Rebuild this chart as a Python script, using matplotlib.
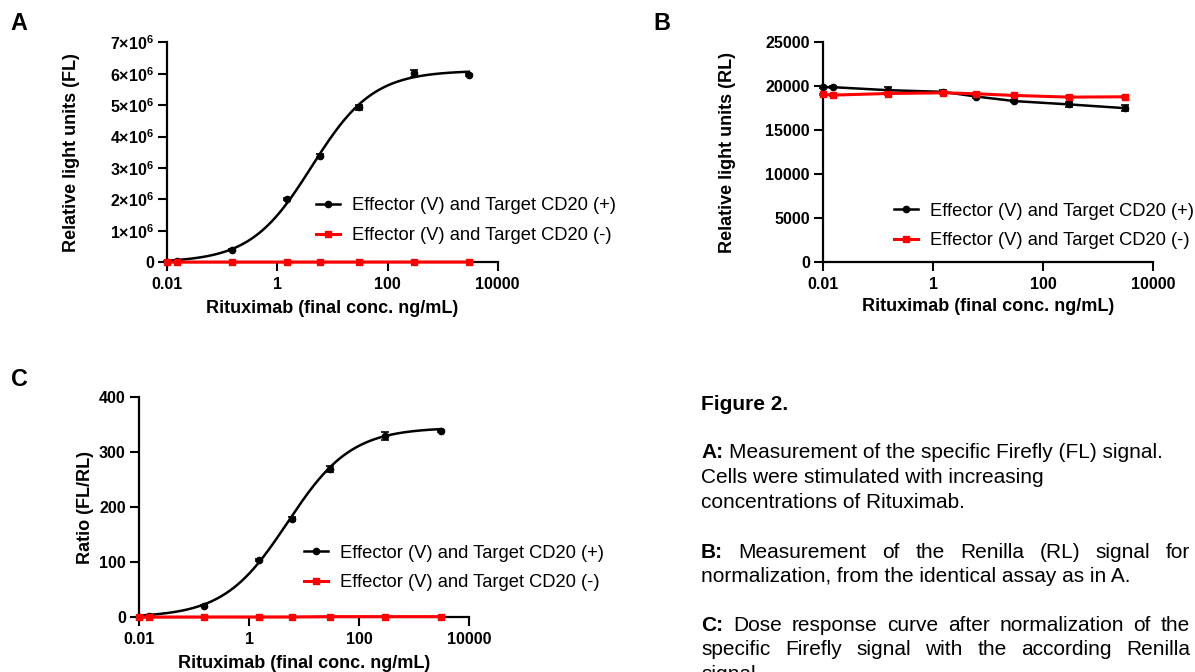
import matplotlib
matplotlib.use('Agg')
import matplotlib.pyplot as plt
import numpy as np
from matplotlib.lines import Line2D
from matplotlib.ticker import FixedLocator, FixedFormatter, NullLocator

# ---------------- data ----------------
conc = [0.01, 0.015, 0.15, 1.5, 6, 30, 300, 3000]

fl_pos = [0.02e6, 0.05e6, 0.39e6, 2.02e6, 3.39e6, 4.93e6, 6.01e6, 5.95e6]
fl_pos_err = [0.01e6, 0.01e6, 0.03e6, 0.04e6, 0.05e6, 0.07e6, 0.12e6, 0.03e6]
fl_neg = [5000, 6000, 6000, 6000, 6000, 7000, 7000, 7000]
fl_fit = [0.0, 6.1e6, 4.2, 0.78]          # bottom, top, EC50, Hill (4PL fit)

rl_pos = [19900, 19900, 19560, 19370, 18840, 18320, 17940, 17520]
rl_pos_err = [150, 100, 350, 200, 150, 150, 300, 300]
rl_neg = [19070, 19000, 19180, 19260, 19150, 18960, 18770, 18810]
rl_neg_err = [100, 100, 150, 100, 100, 100, 100, 100]

ratio_pos = [0.5, 2.4, 21.2, 103.6, 178.8, 269.7, 329.7, 339.4]
ratio_pos_err = [0.5, 0.5, 1.5, 2.0, 3.0, 5.0, 8.0, 2.0]
ratio_neg = [0.3, 0.3, 0.5, 0.5, 0.6, 1.2, 1.2, 1.2]
ratio_fit = [0.0, 345.0, 5.0, 0.75]       # bottom, top, EC50, Hill (4PL fit)

xticks = [0.01, 1, 100, 10000]
xtick_labels = ['0.01', '1', '100', '10000']
fl_yticks = [0, 1e6, 2e6, 3e6, 4e6, 5e6, 6e6, 7e6]
fl_ytick_labels = ['0'] + [r'$%d{\times}10^{6}$' % i for i in range(1, 8)]
rl_yticks = [0, 5000, 10000, 15000, 20000, 25000]
rl_ytick_labels = ['0', '5000', '10000', '15000', '20000', '25000']
ratio_yticks = [0, 100, 200, 300, 400]
ratio_ytick_labels = ['0', '100', '200', '300', '400']

legend_labels = ['Effector (V) and Target CD20 (+)', 'Effector (V) and Target CD20 (-)']
xlabel = 'Rituximab (final conc. ng/mL)'

# ---------------- style ----------------
W, H = 1195, 672
plt.rcParams['font.family'] = ['Liberation Sans', 'DejaVu Sans']
plt.rcParams['font.weight'] = 'bold'
plt.rcParams['mathtext.fontset'] = 'custom'
plt.rcParams['mathtext.rm'] = 'Liberation Sans:bold'
plt.rcParams['mathtext.bf'] = 'Liberation Sans:bold'
plt.rcParams['mathtext.it'] = 'Liberation Sans:bold:italic'
plt.rcParams['mathtext.sf'] = 'Liberation Sans:bold'

RED = '#FF0000'
fig = plt.figure(figsize=(W / 100, H / 100), dpi=100)


def make_ax(left, top, w, h):
    return fig.add_axes([left / W, 1 - (top + h) / H, w / W, h / H])


def four_pl(x, p):
    bottom, top, ec50, hill = p
    x = np.asarray(x, dtype=float)
    return bottom + (top - bottom) / (1 + (ec50 / x) ** hill)


def style_ax(ax, yticks, ylabels, ymax, ylabel, ylab_x, xlab_y):
    ax.set_xscale('log')
    ax.set_xlim(0.01, 10000)
    ax.set_ylim(0, ymax)
    for s in ['top', 'right']:
        ax.spines[s].set_visible(False)
    for s in ['left', 'bottom']:
        ax.spines[s].set_linewidth(1.6)
    ax.xaxis.set_major_locator(FixedLocator(xticks))
    ax.xaxis.set_major_formatter(FixedFormatter(xtick_labels))
    ax.xaxis.set_minor_locator(NullLocator())
    ax.yaxis.set_major_locator(FixedLocator(yticks))
    ax.yaxis.set_major_formatter(FixedFormatter(ylabels))
    ax.yaxis.set_minor_locator(NullLocator())
    ax.tick_params(axis='both', direction='out', length=6.8, width=1.5,
                   labelsize=11.5, color='black')
    ax.tick_params(axis='x', pad=4.1)
    ax.tick_params(axis='y', pad=2.7)
    for t in ax.get_xticklabels() + ax.get_yticklabels():
        t.set_fontweight('bold')
    ax.set_ylabel(ylabel, fontsize=13, fontweight='bold', va='center')
    ax.yaxis.set_label_coords(ylab_x, 0.5)
    ax.set_xlabel(xlabel, fontsize=13, fontweight='bold', va='center')
    ax.xaxis.set_label_coords(0.5, xlab_y)


def add_legend(ax, left_px, center_px):
    h_pos = Line2D([], [], color='black', marker='o', ms=4.5, lw=1.8)
    h_neg = Line2D([], [], color=RED, marker='s', ms=4.2, lw=2.2)
    ax.legend([h_pos, h_neg], legend_labels, loc='center left',
              bbox_to_anchor=(left_px / W, 1 - center_px / H),
              bbox_transform=fig.transFigure, frameon=False,
              borderpad=0, borderaxespad=0, handlelength=1.31,
              handletextpad=0.67, labelspacing=0.7,
              prop={'family': 'Liberation Sans', 'weight': 'normal', 'size': 13.2})


def fit_panel(ax, pos, pos_err, neg, fit):
    xs = np.logspace(np.log10(conc[0]), np.log10(conc[-1]), 400)
    ax.plot(xs, four_pl(xs, fit), color='black', lw=1.8, zorder=3, clip_on=False)
    ax.errorbar(conc, pos, yerr=pos_err, fmt='o', color='black', ms=4.5,
                capsize=2.6, elinewidth=1.2, capthick=1.2, zorder=4, clip_on=False)
    ax.plot(conc, neg, color=RED, marker='s', ms=4.2, lw=2.2, zorder=5, clip_on=False)


# ---------------- panel A ----------------
axA = make_ax(167.3, 42.3, 330.4, 220)
fit_panel(axA, fl_pos, fl_pos_err, fl_neg, fl_fit)
style_ax(axA, fl_yticks, fl_ytick_labels, 7e6, 'Relative light units (FL)', -0.289, -0.209)
add_legend(axA, 316, 220.7)

# ---------------- panel B ----------------
axB = make_ax(823, 42.3, 330.3, 220)
axB.errorbar(conc, rl_pos, yerr=rl_pos_err, fmt='-o', color='black', ms=4.5, lw=1.8,
             capsize=2.6, elinewidth=1.2, capthick=1.2, zorder=3, clip_on=False)
axB.errorbar(conc, rl_neg, yerr=rl_neg_err, fmt='-s', color=RED, ms=4.2, lw=2.2,
             capsize=2.6, elinewidth=1.2, capthick=1.2, zorder=4, clip_on=False)
style_ax(axB, rl_yticks, rl_ytick_labels, 25000, 'Relative light units (RL)', -0.2897, -0.202)
add_legend(axB, 894, 226)

# ---------------- panel C ----------------
axC = make_ax(139, 397.3, 330.3, 220)
fit_panel(axC, ratio_pos, ratio_pos_err, ratio_neg, ratio_fit)
style_ax(axC, ratio_yticks, ratio_ytick_labels, 400, 'Ratio (FL/RL)', -0.163, -0.209)
add_legend(axC, 304, 568)

# ---------------- panel letters ----------------
for letter, (x, y) in zip(['A', 'B', 'C'], [(19, 23), (662, 23), (19, 379.7)]):
    fig.text(x / W, 1 - y / H, letter, fontsize=16.8, fontweight='bold',
             ha='center', va='center')

# ---------------- caption ----------------
renderer = fig.canvas.get_renderer()
CAP = 15


def txt(x, y, s, weight='normal'):
    return fig.text(x / W, 1 - y / H, s, fontsize=CAP, fontweight=weight,
                    ha='left', va='baseline', family='Liberation Sans')


def width(t):
    return t.get_window_extent(renderer).width


def measure(s, weight='normal'):
    t = txt(300, 300, s, weight)
    w = width(t)
    t.remove()
    return w


SPACE = measure('x x') - measure('xx')


def plain_line(x0, y, words):
    x = x0
    for s, wgt in words:
        t = txt(x, y, s, wgt)
        x += width(t) + SPACE


def justified_line(x0, x1, y, words):
    ts = [txt(x0, y, s, wgt) for s, wgt in words]
    ws = [width(t) for t in ts]
    gap = (x1 - x0 - sum(ws)) / (len(ts) - 1)
    x = x0
    for t, w in zip(ts, ws):
        t.set_x(x / W)
        x += w + gap


X0, X1 = 701, 1190
txt(X0, 410, 'Figure 2.', 'bold')
plain_line(X0, 458.3, [('A:', 'bold'), ('Measurement of the specific Firefly (FL) signal.', 'normal')])
plain_line(X0, 483.3, [('Cells were stimulated with increasing', 'normal')])
plain_line(X0, 507.7, [('concentrations of Rituximab.', 'normal')])
justified_line(X0, X1, 557.7, [('B:', 'bold')] + [(w, 'normal') for w in
               'Measurement of the Renilla (RL) signal for'.split()])
plain_line(X0, 581.7, [('normalization, from the identical assay as in A.', 'normal')])
justified_line(X0, X1, 630.7, [('C:', 'bold')] + [(w, 'normal') for w in
               'Dose response curve after normalization of the'.split()])
justified_line(X0, X1, 655.3, [(w, 'normal') for w in
               'specific Firefly signal with the according Renilla'.split()])
plain_line(X0, 680.0, [('signal.', 'normal')])

fig.savefig('out.png', dpi=100)
